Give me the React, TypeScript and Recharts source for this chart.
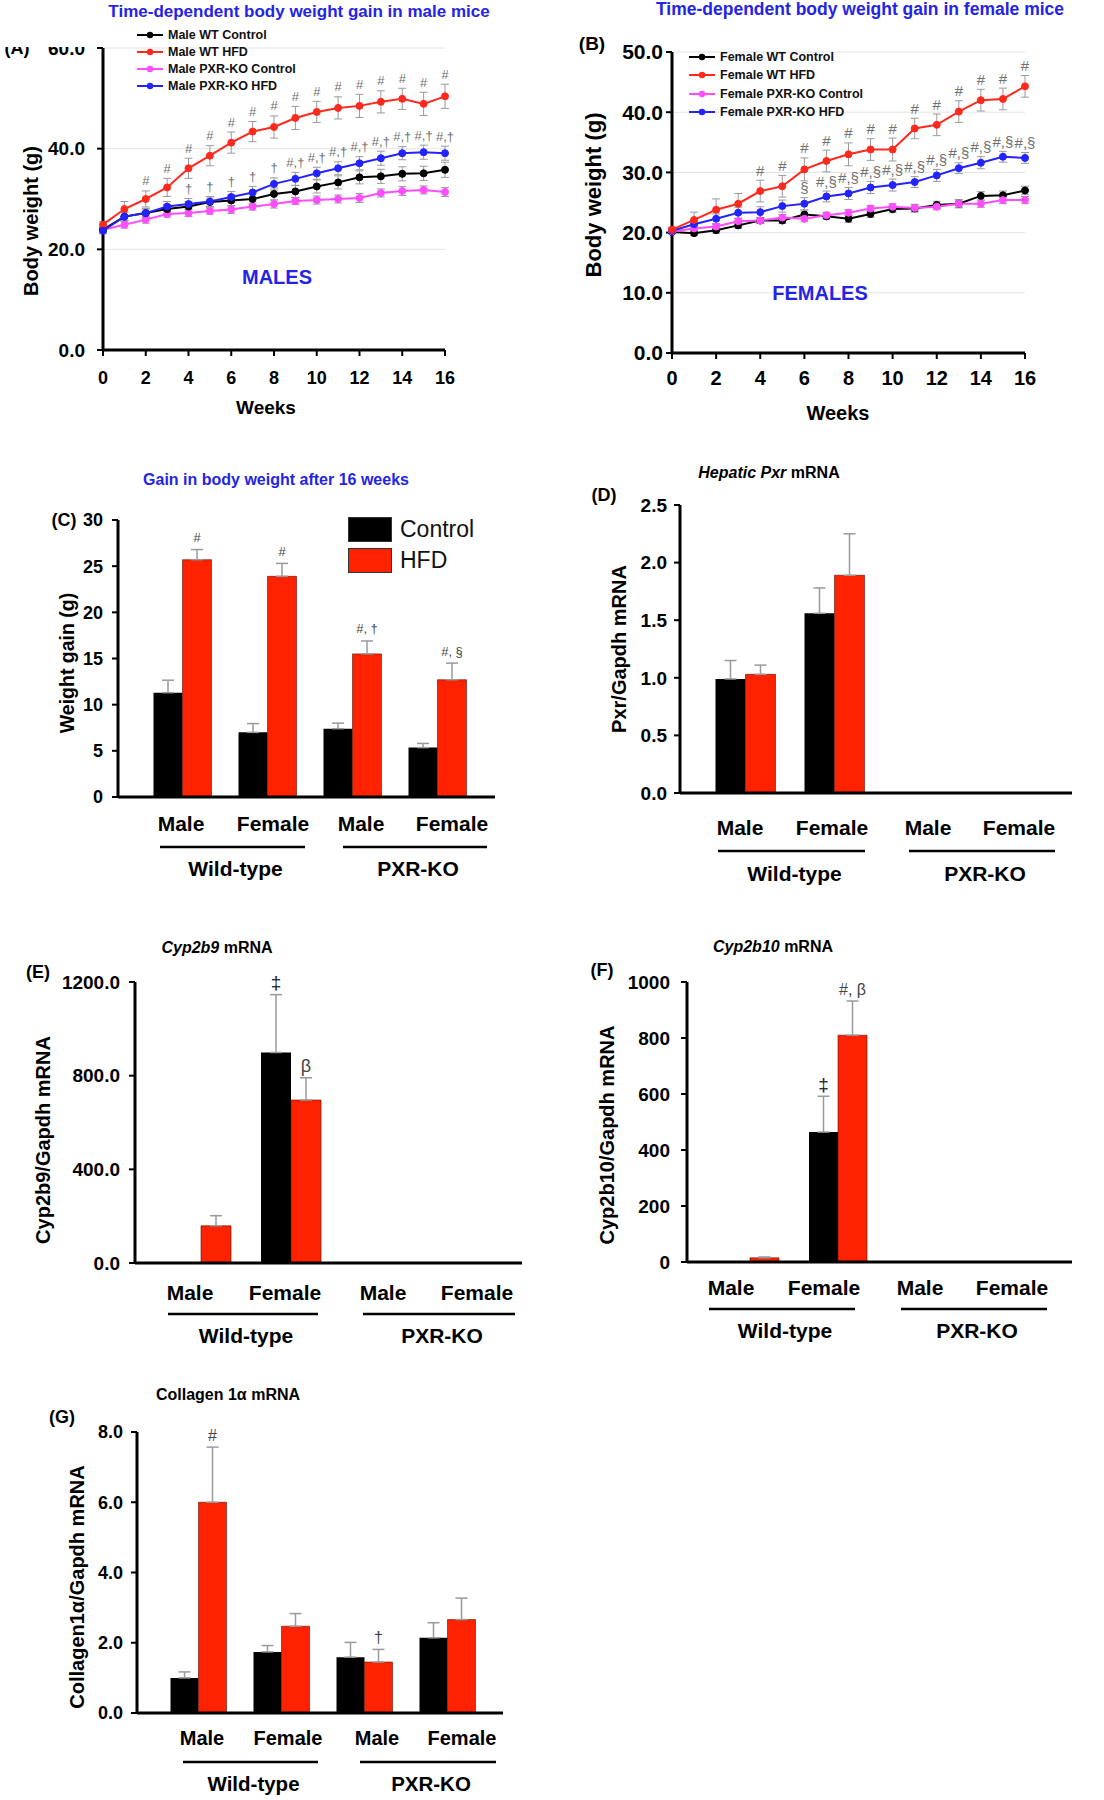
import React from 'react'
import {
  LineChart, Line, BarChart, Bar, XAxis, YAxis, CartesianGrid,
  ErrorBar, LabelList, Legend
} from 'recharts'

const FONT = '"Liberation Sans", Arial, Helvetica, sans-serif'
const TITLE_BLUE = '#2424e8'
const BAR_RED = '#ff2200'
const LINE_RED = '#ff2a1e'
const LINE_BLUE = '#2323ff'
const LINE_PINK = '#ff4dff'
const ERR_GRAY = '#9a9a9a'

// ---- (A)/(B) body weight by week ----
const WEEKS = [0, 1, 2, 3, 4, 5, 6, 7, 8, 9, 10, 11, 12, 13, 14, 15, 16]
const WEEK_TICKS = [0, 2, 4, 6, 8, 10, 12, 14, 16]

const M_WT_CTRL = [23.9, 26.5, 27.2, 28.0, 28.5, 29.4, 29.7, 30.0, 31.0, 31.5, 32.5, 33.3, 34.3, 34.5, 35.0, 35.1, 35.8]
const M_WT_HFD = [24.9, 28.0, 30.0, 32.3, 36.1, 38.6, 41.2, 43.4, 44.3, 46.1, 47.3, 48.1, 48.5, 49.3, 49.9, 48.9, 50.4]
const M_KO_CTRL = [23.9, 24.9, 25.9, 27.0, 27.2, 27.6, 27.9, 28.5, 29.0, 29.6, 29.8, 30.0, 30.2, 31.2, 31.6, 31.8, 31.4]
const M_KO_HFD = [23.7, 26.5, 27.2, 28.5, 29.0, 29.5, 30.4, 31.3, 33.0, 34.0, 35.1, 36.1, 37.1, 38.1, 39.1, 39.3, 39.1]
const M_WT_CTRL_ERR = [0.5, 0.8, 0.8, 0.9, 1.0, 1.0, 1.1, 1.1, 1.2, 1.2, 1.3, 1.3, 1.3, 1.4, 1.4, 1.4, 1.5]
const M_WT_HFD_ERR = [0.6, 1.5, 1.6, 1.8, 2.0, 2.0, 2.1, 2.0, 2.2, 2.3, 2.1, 2.2, 2.3, 2.2, 2.1, 2.3, 2.4]
const M_KO_CTRL_ERR = [0.5, 0.7, 0.7, 0.6, 0.7, 0.6, 0.8, 0.7, 0.8, 0.7, 0.8, 0.8, 0.9, 0.8, 0.9, 0.8, 0.9]
const M_KO_HFD_ERR = [0.6, 0.9, 0.9, 1.0, 1.1, 1.0, 1.1, 1.2, 1.2, 1.3, 1.2, 1.3, 1.3, 1.4, 1.3, 1.4, 1.4]
const M_WT_HFD_NOTES = ['', '', '#', '#', '#', '#', '#', '#', '#', '#', '#', '#', '#', '#', '#', '#', '#']
const M_KO_HFD_NOTES = ['', '', '', '', '†', '†', '†', '†', '†', '#,†', '#,†', '#,†', '#,†', '#,†', '#,†', '#,†', '#,†']

const F_WT_CTRL = [20.1, 19.9, 20.4, 21.2, 22.0, 22.0, 23.0, 22.7, 22.3, 23.1, 23.9, 24.0, 24.6, 24.8, 26.1, 26.2, 27.0]
const F_WT_HFD = [20.5, 22.1, 23.8, 24.8, 26.9, 27.7, 30.5, 31.9, 33.0, 33.8, 33.8, 37.3, 37.9, 40.1, 42.0, 42.2, 44.3]
const F_KO_CTRL = [20.2, 20.7, 21.0, 21.9, 22.0, 22.5, 22.3, 22.9, 23.3, 24.0, 24.3, 24.1, 24.3, 24.8, 24.8, 25.4, 25.4]
const F_KO_HFD = [20.3, 21.4, 22.3, 23.3, 23.4, 24.4, 24.8, 26.0, 26.5, 27.5, 27.9, 28.4, 29.5, 30.7, 31.6, 32.6, 32.4]
const F_WT_CTRL_ERR = [0.3, 0.4, 0.5, 0.5, 0.5, 0.5, 0.6, 0.5, 0.6, 0.6, 0.6, 0.6, 0.6, 0.7, 0.7, 0.7, 0.7]
const F_WT_HFD_ERR = [0.4, 1.3, 1.8, 1.7, 1.8, 1.8, 1.9, 1.8, 1.9, 1.8, 1.9, 1.7, 1.8, 1.8, 1.8, 1.8, 1.8]
const F_KO_CTRL_ERR = [0.3, 0.4, 0.4, 0.4, 0.5, 0.5, 0.5, 0.5, 0.5, 0.5, 0.5, 0.6, 0.5, 0.6, 0.6, 0.6, 0.6]
const F_KO_HFD_ERR = [0.3, 0.7, 0.8, 0.9, 0.9, 1.0, 1.0, 0.9, 1.0, 1.0, 1.0, 0.9, 1.0, 0.9, 1.0, 0.9, 0.9]
const F_WT_HFD_NOTES = ['', '', '', '', '#', '#', '#', '#', '#', '#', '#', '#', '#', '#', '#', '#', '#']
const F_KO_HFD_NOTES = ['', '', '', '', '', '', '§', '#,§', '#,§', '#,§', '#,§', '#,§', '#,§', '#,§', '#,§', '#,§', '#,§']

// ---- (C)-(G) group bars ----
const GROUPS = ['WT-Male', 'WT-Female', 'KO-Male', 'KO-Female']
const SEX_LABELS = ['Male', 'Female', 'Male', 'Female']
const GENOTYPES = ['Wild-type', 'PXR-KO']

const GAIN_CTRL = [11.3, 7.0, 7.4, 5.35]
const GAIN_CTRL_ERR = [1.35, 0.95, 0.6, 0.45]
const GAIN_HFD = [25.7, 23.9, 15.5, 12.7]
const GAIN_HFD_ERR = [1.1, 1.4, 1.4, 1.8]
const GAIN_HFD_NOTES = ['#', '#', '#, †', '#, §']

const PXR_CTRL = [0.99, 1.56, 0, 0]
const PXR_CTRL_ERR = [0.16, 0.22, 0, 0]
const PXR_HFD = [1.03, 1.89, 0, 0]
const PXR_HFD_ERR = [0.08, 0.36, 0, 0]

const CYP2B9_CTRL = [0, 899, 0, 0]
const CYP2B9_CTRL_ERR = [0, 247, 0, 0]
const CYP2B9_HFD = [159, 696, 0, 0]
const CYP2B9_HFD_ERR = [43, 95, 0, 0]
const CYP2B9_CTRL_NOTES = ['', '‡', '', '']
const CYP2B9_HFD_NOTES = ['', 'β', '', '']

const CYP2B10_CTRL = [0, 464, 0, 0]
const CYP2B10_CTRL_ERR = [0, 128, 0, 0]
const CYP2B10_HFD = [15, 810, 0, 0]
const CYP2B10_HFD_ERR = [3, 122, 0, 0]
const CYP2B10_CTRL_NOTES = ['', '‡', '', '']
const CYP2B10_HFD_NOTES = ['', '#, β', '', '']

const COL1A_CTRL = [1.0, 1.74, 1.59, 2.14]
const COL1A_CTRL_ERR = [0.17, 0.18, 0.42, 0.43]
const COL1A_HFD = [6.0, 2.47, 1.45, 2.66]
const COL1A_HFD_ERR = [1.57, 0.36, 0.36, 0.61]
const COL1A_HFD_NOTES = ['#', '', '†', '']

type Box = { left: number; top: number; width: number; height: number }
type Plot = { left: number; top: number; right: number; bottom: number }

function marginsFor(box: Box, plot: Plot, xAxisH: number) {
  return {
    top: plot.top - box.top,
    right: box.left + box.width - plot.right,
    bottom: box.top + box.height - plot.bottom - xAxisH,
    left: 0,
  }
}

// rotated axis title, (x, y) given in page coords
function rotatedLabel(text: string, box: Box, x: number, y: number, size: number) {
  const cx = x - box.left
  const cy = y - box.top
  return () => (
    <text x={cx} y={cy} transform={`rotate(-90 ${cx} ${cy})`} textAnchor="middle" dominantBaseline="central"
      fontFamily={FONT} fontWeight="bold" fontSize={size} fill="#000">{text}</text>
  )
}

function flatLabel(text: string, box: Box, x: number, y: number, size: number) {
  return () => (
    <text x={x - box.left} y={y - box.top} textAnchor="middle" dominantBaseline="central"
      fontFamily={FONT} fontWeight="bold" fontSize={size} fill="#000">{text}</text>
  )
}

function Txt({ x, y, size, color = '#000', weight = 'bold', children }: any) {
  return (
    <div style={{
      position: 'absolute', left: x, top: y, transform: 'translate(-50%, -50%)',
      fontFamily: FONT, fontSize: size, fontWeight: weight, color, whiteSpace: 'nowrap', lineHeight: 1,
    }}>{children}</div>
  )
}

type Series = { name: string; color: string; values: number[]; errors: number[]; notes?: string[] }

type WeightCfg = {
  box: Box; plot: Plot; yMax: number; yTicks: number[]
  series: Series[]; order: number[]
  yTickSize: number; xTickSize: number; yTickMargin: number; xTickMargin: number
  yLabel: [number, number, number]; weeks: [number, number, number]
  legendAt: [number, number]; legendGap: number; legendSize: number; noteSize: number
}

function LineLegend({ items, gap, size }: { items: Series[]; gap: number; size: number }) {
  return (
    <div style={{ fontFamily: FONT, fontWeight: 'bold', fontSize: size }}>
      {items.map(s => (
        <div key={s.name} style={{ display: 'flex', alignItems: 'center', height: gap }}>
          <svg width={28} height={10} style={{ marginRight: 4 }}>
            <line x1={1} y1={5} x2={27} y2={5} stroke={s.color} strokeWidth={2} />
            <circle cx={14} cy={5} r={3.2} fill={s.color} />
          </svg>
          <span style={{ color: '#111', whiteSpace: 'nowrap' }}>{s.name}</span>
        </div>
      ))}
    </div>
  )
}

const X_AXIS_LINE = 60

function WeightPanel({ cfg }: { cfg: WeightCfg }) {
  const { box, plot } = cfg
  const rows = WEEKS.map((w, i) => {
    const r: Record<string, number> = { week: w }
    cfg.series.forEach((s, k) => { r[`v${k}`] = s.values[i]; r[`e${k}`] = s.errors[i] })
    return r
  })
  const pxPerUnit = (plot.bottom - plot.top) / cfg.yMax
  const noteFor = (s: Series) => (props: any) => {
    const i = props.index
    const t = s.notes?.[i]
    if (!t) return null
    return (
      <text x={props.x} y={props.y - s.errors[i] * pxPerUnit - 10} textAnchor="middle" dominantBaseline="central"
        fontFamily={FONT} fontSize={cfg.noteSize} fill="#707070">{t}</text>
    )
  }
  return (
    <div style={{ position: 'absolute', left: box.left, top: box.top }}>
      <LineChart width={box.width} height={box.height} data={rows} margin={marginsFor(box, plot, X_AXIS_LINE)}>
        <CartesianGrid vertical={false} stroke="#e4e4e4" />
        <XAxis dataKey="week" type="number" domain={[0, 16]} ticks={WEEK_TICKS} height={X_AXIS_LINE}
          axisLine={{ stroke: '#000', strokeWidth: 3 }} tickLine={{ stroke: '#000', strokeWidth: 2 }}
          tickSize={6} tickMargin={cfg.xTickMargin}
          tick={{ fontFamily: FONT, fontWeight: 'bold', fontSize: cfg.xTickSize, fill: '#000' }}
          label={flatLabel('Weeks', box, cfg.weeks[0], cfg.weeks[1], cfg.weeks[2])} />
        <YAxis type="number" width={plot.left - box.left} domain={[0, cfg.yMax]} ticks={cfg.yTicks} allowDataOverflow
          tickFormatter={(v: number) => v.toFixed(1)}
          axisLine={{ stroke: '#000', strokeWidth: 3 }} tickLine={{ stroke: '#000', strokeWidth: 2 }}
          tickSize={6} tickMargin={cfg.yTickMargin}
          tick={{ fontFamily: FONT, fontWeight: 'bold', fontSize: cfg.yTickSize, fill: '#000' }}
          label={rotatedLabel('Body weight (g)', box, cfg.yLabel[0], cfg.yLabel[1], cfg.yLabel[2])} />
        {cfg.order.map(k => {
          const s = cfg.series[k]
          return (
            <Line key={s.name} dataKey={`v${k}`} name={s.name} stroke={s.color} strokeWidth={2}
              dot={{ r: 3.5, fill: s.color, stroke: s.color, strokeWidth: 1 }} isAnimationActive={false}>
              <ErrorBar dataKey={`e${k}`} direction="y" width={4} stroke={ERR_GRAY} strokeWidth={1} />
              {s.notes && <LabelList dataKey={`v${k}`} content={noteFor(s)} />}
            </Line>
          )
        })}
        <Legend layout="vertical" align="center" verticalAlign="middle"
          wrapperStyle={{ left: cfg.legendAt[0] - box.left, top: cfg.legendAt[1] - box.top, width: 'auto', height: 'auto' }}
          content={() => <LineLegend items={cfg.series} gap={cfg.legendGap} size={cfg.legendSize} />} />
      </LineChart>
    </div>
  )
}

type BarCfg = {
  box: Box; plot: Plot; yMax: number; yTicks: number[]; fmt: (v: number) => string
  ctrl: number[]; ctrlErr: number[]; hfd: number[]; hfdErr: number[]
  ctrlNotes?: string[]; hfdNotes?: string[]; ctrlNoteSize?: number; hfdNoteSize?: number
  pad: [number, number]; barSize: number
  sexDx: number[]; lines: [number, number][]; rows: [number, number, number]
  catSize: number; groupSize: number; yTickSize: number; yTickMargin: number
  yLabel: [string, number, number, number]
  legendAt?: [number, number]
}

const X_AXIS_BAR = 85

function groupTick(cfg: BarCfg) {
  const band = (cfg.plot.right - cfg.plot.left - cfg.pad[0] - cfg.pad[1]) / GROUPS.length
  return (props: any) => {
    const i: number = props.index ?? props.payload?.index ?? 0
    const x: number = props.x
    const y: number = props.y
    const items = [
      <text key="sex" x={x + cfg.sexDx[i]} y={y + cfg.rows[0]} textAnchor="middle" dominantBaseline="central"
        fontFamily={FONT} fontWeight="bold" fontSize={cfg.catSize} fill="#000">{SEX_LABELS[i]}</text>,
    ]
    if (i % 2 === 0) {
      const g = i / 2
      const x0 = x + cfg.lines[g][0]
      const x1 = x + band + cfg.lines[g][1]
      items.push(<line key="rule" x1={x0} x2={x1} y1={y + cfg.rows[1]} y2={y + cfg.rows[1]} stroke="#000" strokeWidth={2.5} />)
      items.push(
        <text key="geno" x={(x0 + x1) / 2 + 3} y={y + cfg.rows[2]} textAnchor="middle" dominantBaseline="central"
          fontFamily={FONT} fontWeight="bold" fontSize={cfg.groupSize} fill="#000">{GENOTYPES[g]}</text>
      )
    }
    return <g>{items}</g>
  }
}

function BarLegend({ payload }: any) {
  const items = (payload && payload.length ? payload : [
    { value: 'Control', color: '#000' }, { value: 'HFD', color: BAR_RED },
  ])
  return (
    <div style={{ fontFamily: FONT, fontSize: 23, color: '#111' }}>
      {items.map((e: any, i: number) => (
        <div key={e.value} style={{ display: 'flex', alignItems: 'center', height: 25, marginBottom: i === 0 ? 6 : 0 }}>
          <div style={{ width: 44, height: 25, background: e.color, border: '1px solid #333', boxSizing: 'border-box', marginRight: 8 }} />
          <span>{e.value}</span>
        </div>
      ))}
    </div>
  )
}

function BarPanel({ cfg }: { cfg: BarCfg }) {
  const { box, plot } = cfg
  const rows = GROUPS.map((g, i) => ({
    group: g,
    ctrl: cfg.ctrl[i], hfd: cfg.hfd[i],
    ctrlErr: [0, cfg.ctrlErr[i]], hfdErr: [0, cfg.hfdErr[i]],
  }))
  const pxPerUnit = (plot.bottom - plot.top) / cfg.yMax
  // zero-height bars may be skipped by the label list, so look the bar up by its value
  const note = (values: number[], notes: string[] | undefined, errs: number[], size: number, color: string) => (props: any) => {
    let i = values.indexOf(Number(props.value))
    if (i < 0) i = props.index
    const t = notes?.[i]
    if (!t) return null
    return (
      <text x={props.x + props.width / 2} y={props.y - errs[i] * pxPerUnit - 12} textAnchor="middle"
        dominantBaseline="central" fontFamily={FONT} fontSize={size} fill={color}>{t}</text>
    )
  }
  return (
    <div style={{ position: 'absolute', left: box.left, top: box.top }}>
      <BarChart width={box.width} height={box.height} data={rows} margin={marginsFor(box, plot, X_AXIS_BAR)}
        barGap={0} barSize={cfg.barSize}>
        <XAxis dataKey="group" type="category" interval={0} height={X_AXIS_BAR}
          padding={{ left: cfg.pad[0], right: cfg.pad[1] }}
          axisLine={{ stroke: '#000', strokeWidth: 3 }} tickLine={false} tickSize={0} tickMargin={0}
          tick={groupTick(cfg)} />
        <YAxis type="number" width={plot.left - box.left} domain={[0, cfg.yMax]} ticks={cfg.yTicks} allowDataOverflow
          tickFormatter={cfg.fmt}
          axisLine={{ stroke: '#000', strokeWidth: 3 }} tickLine={{ stroke: '#000', strokeWidth: 2 }}
          tickSize={6} tickMargin={cfg.yTickMargin}
          tick={{ fontFamily: FONT, fontWeight: 'bold', fontSize: cfg.yTickSize, fill: '#000' }}
          label={rotatedLabel(cfg.yLabel[0], box, cfg.yLabel[1], cfg.yLabel[2], cfg.yLabel[3])} />
        <Bar dataKey="ctrl" name="Control" fill="#000" isAnimationActive={false}>
          <ErrorBar dataKey="ctrlErr" direction="y" width={6} stroke={ERR_GRAY} strokeWidth={1.5} />
          <LabelList dataKey="ctrl" content={note(cfg.ctrl, cfg.ctrlNotes, cfg.ctrlErr, cfg.ctrlNoteSize ?? 14, '#222')} />
        </Bar>
        <Bar dataKey="hfd" name="HFD" fill={BAR_RED} stroke="#5a1000" strokeWidth={0.6} isAnimationActive={false}>
          <ErrorBar dataKey="hfdErr" direction="y" width={6} stroke={ERR_GRAY} strokeWidth={1.5} />
          <LabelList dataKey="hfd" content={note(cfg.hfd, cfg.hfdNotes, cfg.hfdErr, cfg.hfdNoteSize ?? 14, '#444')} />
        </Bar>
        {cfg.legendAt && (
          <Legend layout="vertical" align="center" verticalAlign="middle"
            wrapperStyle={{ left: cfg.legendAt[0] - box.left, top: cfg.legendAt[1] - box.top, width: 'auto', height: 'auto' }}
            content={(p: any) => <BarLegend payload={p.payload} />} />
        )}
      </BarChart>
    </div>
  )
}

const MALE_CFG: WeightCfg = {
  box: { left: 0, top: 0, width: 460, height: 430 },
  plot: { left: 103, top: 48, right: 445, bottom: 350 },
  yMax: 60, yTicks: [0, 20, 40, 60],
  series: [
    { name: 'Male WT Control', color: '#000', values: M_WT_CTRL, errors: M_WT_CTRL_ERR },
    { name: 'Male WT HFD', color: LINE_RED, values: M_WT_HFD, errors: M_WT_HFD_ERR, notes: M_WT_HFD_NOTES },
    { name: 'Male PXR-KO Control', color: LINE_PINK, values: M_KO_CTRL, errors: M_KO_CTRL_ERR },
    { name: 'Male PXR-KO HFD', color: LINE_BLUE, values: M_KO_HFD, errors: M_KO_HFD_ERR, notes: M_KO_HFD_NOTES },
  ],
  order: [2, 0, 1, 3],
  yTickSize: 19, xTickSize: 18, yTickMargin: 12, xTickMargin: 15,
  yLabel: [31, 221, 20], weeks: [266, 407, 19],
  legendAt: [136, 26], legendGap: 17, legendSize: 12.5, noteSize: 13,
}

const FEMALE_CFG: WeightCfg = {
  box: { left: 552, top: 0, width: 500, height: 430 },
  plot: { left: 672, top: 52, right: 1025, bottom: 353 },
  yMax: 50, yTicks: [0, 10, 20, 30, 40, 50],
  series: [
    { name: 'Female WT Control', color: '#000', values: F_WT_CTRL, errors: F_WT_CTRL_ERR },
    { name: 'Female WT HFD', color: LINE_RED, values: F_WT_HFD, errors: F_WT_HFD_ERR, notes: F_WT_HFD_NOTES },
    { name: 'Female PXR-KO Control', color: LINE_PINK, values: F_KO_CTRL, errors: F_KO_CTRL_ERR },
    { name: 'Female PXR-KO HFD', color: LINE_BLUE, values: F_KO_HFD, errors: F_KO_HFD_ERR, notes: F_KO_HFD_NOTES },
  ],
  order: [0, 2, 3, 1],
  yTickSize: 21, xTickSize: 20, yTickMargin: 3, xTickMargin: 12,
  yLabel: [593, 195, 22], weeks: [838, 413, 20],
  legendAt: [688, 48], legendGap: 18.3, legendSize: 12.5, noteSize: 15,
}

const GAIN_CFG: BarCfg = {
  box: { left: 0, top: 440, width: 510, height: 460 },
  plot: { left: 118, top: 520, right: 495, bottom: 797 },
  yMax: 30, yTicks: [0, 5, 10, 15, 20, 25, 30], fmt: (v: number) => String(v),
  ctrl: GAIN_CTRL, ctrlErr: GAIN_CTRL_ERR, hfd: GAIN_HFD, hfdErr: GAIN_HFD_ERR,
  hfdNotes: GAIN_HFD_NOTES, hfdNoteSize: 13,
  pad: [21.5, 15.5], barSize: 29,
  sexDx: [-1, 6, 9, 15], lines: [[-22, 38], [-9, 50]], rows: [26, 50, 71],
  catSize: 21, groupSize: 21, yTickSize: 18, yTickMargin: 9,
  yLabel: ['Weight gain (g)', 67, 663, 19.5],
  legendAt: [348, 517],
}

const PXR_CFG: BarCfg = {
  box: { left: 552, top: 440, width: 530, height: 460 },
  plot: { left: 680, top: 505, right: 1072, bottom: 793 },
  yMax: 2.5, yTicks: [0, 0.5, 1, 1.5, 2, 2.5], fmt: (v: number) => v.toFixed(1),
  ctrl: PXR_CTRL, ctrlErr: PXR_CTRL_ERR, hfd: PXR_HFD, hfdErr: PXR_HFD_ERR,
  pad: [20.5, 15.5], barSize: 30,
  sexDx: [-5, -2, 5, 7], lines: [[-27, 31], [-14, 43]], rows: [34, 58, 80],
  catSize: 21, groupSize: 21, yTickSize: 19, yTickMargin: 7,
  yLabel: ['Pxr/Gapdh mRNA', 619, 649, 20],
}

const CYP2B9_CFG: BarCfg = {
  box: { left: 0, top: 900, width: 530, height: 460 },
  plot: { left: 135, top: 982, right: 522, bottom: 1263 },
  yMax: 1200, yTicks: [0, 400, 800, 1200], fmt: (v: number) => v.toFixed(1),
  ctrl: CYP2B9_CTRL, ctrlErr: CYP2B9_CTRL_ERR, hfd: CYP2B9_HFD, hfdErr: CYP2B9_HFD_ERR,
  ctrlNotes: CYP2B9_CTRL_NOTES, hfdNotes: CYP2B9_HFD_NOTES, ctrlNoteSize: 19, hfdNoteSize: 18,
  pad: [21, 6], barSize: 30,
  sexDx: [-11, -6, 2, 6], lines: [[-33, 27], [-18, 44]], rows: [29, 51, 72],
  catSize: 21, groupSize: 21, yTickSize: 19, yTickMargin: 9,
  yLabel: ['Cyp2b9/Gapdh mRNA', 43, 1140, 20],
}

const CYP2B10_CFG: BarCfg = {
  box: { left: 552, top: 900, width: 530, height: 460 },
  plot: { left: 687, top: 982, right: 1072, bottom: 1262 },
  yMax: 1000, yTicks: [0, 200, 400, 600, 800, 1000], fmt: (v: number) => String(v),
  ctrl: CYP2B10_CTRL, ctrlErr: CYP2B10_CTRL_ERR, hfd: CYP2B10_HFD, hfdErr: CYP2B10_HFD_ERR,
  ctrlNotes: CYP2B10_CTRL_NOTES, hfdNotes: CYP2B10_HFD_NOTES, ctrlNoteSize: 19, hfdNoteSize: 16,
  pad: [19, 14], barSize: 29,
  sexDx: [-19, -14, -6, -2], lines: [[-41, 17], [-25, 33]], rows: [25, 47, 68],
  catSize: 21, groupSize: 21, yTickSize: 19, yTickMargin: 11,
  yLabel: ['Cyp2b10/Gapdh mRNA', 607, 1135, 20],
}

const COL1A_CFG: BarCfg = {
  box: { left: 0, top: 1370, width: 520, height: 430 },
  plot: { left: 137, top: 1432, right: 503, bottom: 1713 },
  yMax: 8, yTicks: [0, 2, 4, 6, 8], fmt: (v: number) => v.toFixed(1),
  ctrl: COL1A_CTRL, ctrlErr: COL1A_CTRL_ERR, hfd: COL1A_HFD, hfdErr: COL1A_HFD_ERR,
  hfdNotes: COL1A_HFD_NOTES, hfdNoteSize: 16,
  pad: [19.5, 14.5], barSize: 28,
  sexDx: [4, 7, 13, 15], lines: [[-15, 37], [-4, 49]], rows: [25, 49, 70],
  catSize: 20, groupSize: 20.5, yTickSize: 18, yTickMargin: 8,
  yLabel: ['Collagen1α/Gapdh mRNA', 77, 1587, 20],
}

export default function App() {
  return (
    <div style={{ position: 'absolute', left: 0, top: 0, width: 1104, height: 1800, background: '#fff', overflow: 'hidden' }}>
      <WeightPanel cfg={MALE_CFG} />
      <WeightPanel cfg={FEMALE_CFG} />
      <BarPanel cfg={GAIN_CFG} />
      <BarPanel cfg={PXR_CFG} />
      <BarPanel cfg={CYP2B9_CFG} />
      <BarPanel cfg={CYP2B10_CFG} />
      <BarPanel cfg={COL1A_CFG} />

      <Txt x={17} y={48} size={18}>(A)</Txt>
      {/* top of panel A is cropped in the original figure */}
      <div style={{ position: 'absolute', left: 0, top: 22, width: 100, height: 25, background: '#fff' }} />

      <Txt x={299} y={11} size={17}>
        <span style={{ color: TITLE_BLUE }}>Time-dependent body weight gain in male mice</span>
      </Txt>
      <Txt x={860} y={10} size={17.5}>
        <span style={{ color: TITLE_BLUE }}>Time-dependent body weight gain in female mice</span>
      </Txt>
      <Txt x={592} y={43} size={19}>(B)</Txt>
      <Txt x={277} y={277} size={20} color={TITLE_BLUE}>MALES</Txt>
      <Txt x={820} y={293} size={20} color={TITLE_BLUE}>FEMALES</Txt>

      <Txt x={276} y={480} size={16} color={TITLE_BLUE}>Gain in body weight after 16 weeks</Txt>
      <Txt x={64} y={520} size={18}>(C)</Txt>
      <Txt x={769} y={473} size={16}><i>Hepatic Pxr</i> mRNA</Txt>
      <Txt x={604} y={495} size={18}>(D)</Txt>

      <Txt x={217} y={948} size={16}><i>Cyp2b9</i> mRNA</Txt>
      <Txt x={38} y={972} size={18}>(E)</Txt>
      <Txt x={773} y={947} size={16}><i>Cyp2b10</i> mRNA</Txt>
      <Txt x={602} y={970} size={18}>(F)</Txt>

      <Txt x={228} y={1395} size={16}>Collagen 1α mRNA</Txt>
      <Txt x={62} y={1417} size={18}>(G)</Txt>
    </div>
  )
}
